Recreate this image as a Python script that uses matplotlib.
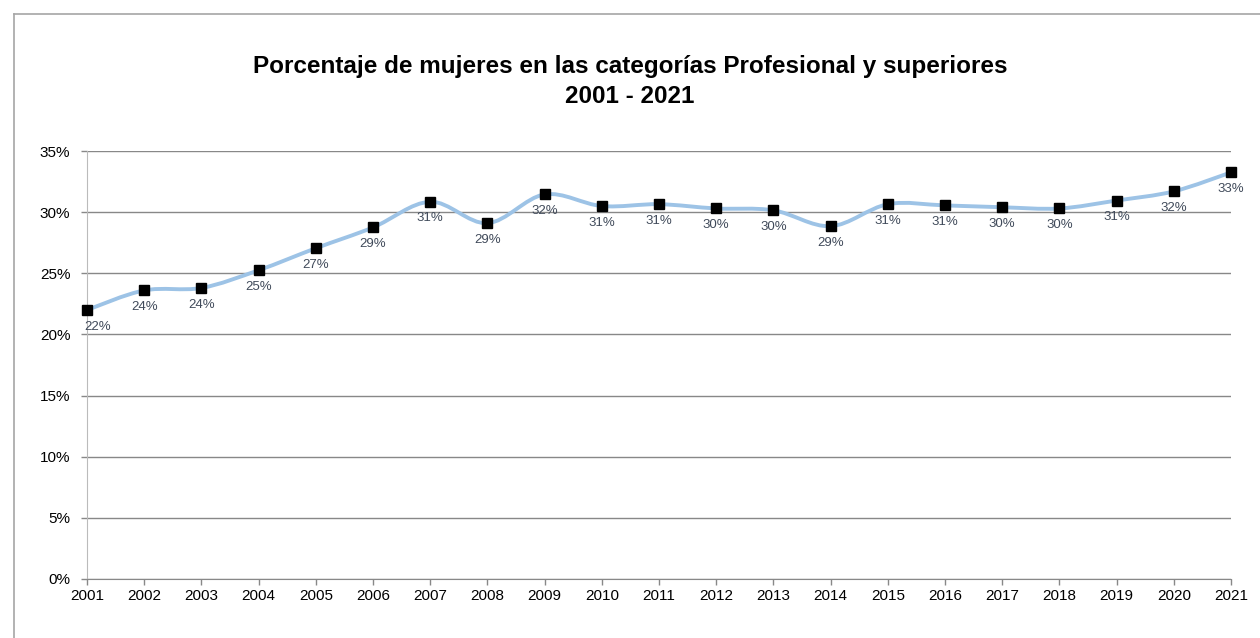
import matplotlib.pyplot as plt
from matplotlib.path import Path
from matplotlib.patches import PathPatch
from matplotlib.ticker import FuncFormatter

plt.rcParams['font.family'] = ['Liberation Sans', 'DejaVu Sans']

# Datos: porcentaje de mujeres en categorías Profesional y superiores
anios = [2001, 2002, 2003, 2004, 2005, 2006, 2007, 2008, 2009, 2010, 2011,
         2012, 2013, 2014, 2015, 2016, 2017, 2018, 2019, 2020, 2021]
porcentajes = [22.0, 23.6, 23.8, 25.25, 27.05, 28.75, 30.85, 29.1, 31.45, 30.5, 30.65,
               30.3, 30.15, 28.85, 30.65, 30.55, 30.4, 30.3, 30.95, 31.7, 33.25]
etiquetas = ['22%', '24%', '24%', '25%', '27%', '29%', '31%', '29%', '32%', '31%', '31%',
             '30%', '30%', '29%', '31%', '31%', '30%', '30%', '31%', '32%', '33%']

titulo = 'Porcentaje de mujeres en las categorías Profesional y superiores\n2001 - 2021'

fig = plt.figure(figsize=(12.6, 6.38), dpi=100)
ax = fig.add_axes([87 / 1260, 1 - 579 / 638, (1231 - 87) / 1260, (579 - 151) / 638])

# Marco del gráfico (estilo Excel)
fig.add_artist(plt.Line2D([14 / 1260, 14 / 1260], [0, 1 - 14 / 638], color='#A6A6A6', lw=1.2))
fig.add_artist(plt.Line2D([14 / 1260, 1], [1 - 14 / 638, 1 - 14 / 638], color='#A6A6A6', lw=1.2))

# Línea suavizada (curvas Bezier tipo Catmull-Rom, como el suavizado de Excel)
verts = [(anios[0], porcentajes[0])]
codes = [Path.MOVETO]
n = len(anios)
for i in range(n - 1):
    x0, y0 = anios[max(i - 1, 0)], porcentajes[max(i - 1, 0)]
    x1, y1 = anios[i], porcentajes[i]
    x2, y2 = anios[i + 1], porcentajes[i + 1]
    x3, y3 = anios[min(i + 2, n - 1)], porcentajes[min(i + 2, n - 1)]
    c1 = (x1 + (x2 - x0) / 6, y1 + (y2 - y0) / 6)
    c2 = (x2 - (x3 - x1) / 6, y2 - (y3 - y1) / 6)
    verts += [c1, c2, (x2, y2)]
    codes += [Path.CURVE4] * 3
ax.add_patch(PathPatch(Path(verts, codes), facecolor='none', edgecolor='#9DC3E6',
                       lw=2.8, capstyle='round', zorder=3))

ax.plot(anios, porcentajes, linestyle='none', marker='s', markersize=7,
        color='black', zorder=4, clip_on=False)

for i, (x, y, txt) in enumerate(zip(anios, porcentajes, etiquetas)):
    dx = 8 if i == 0 else 0
    ax.annotate(txt, (x, y), xytext=(dx, -12), textcoords='offset points',
                ha='center', va='center', fontsize=9.5, color='#404A5A', zorder=5)

ax.set_xlim(2001, 2021)
ax.set_ylim(0, 35)
ax.set_xticks(anios)
ax.set_yticks(range(0, 36, 5))
ax.yaxis.set_major_formatter(FuncFormatter(lambda v, p: f'{int(v)}%'))
ax.tick_params(axis='both', labelsize=11, colors='#888888', labelcolor='black',
               length=4, width=1)
ax.tick_params(axis='x', pad=3)
ax.tick_params(axis='y', pad=8)

ax.grid(axis='y', color='#888888', lw=1)
ax.set_axisbelow(True)
for lado in ['top', 'right']:
    ax.spines[lado].set_visible(False)
ax.spines['left'].set_color('#BBBBBB')
ax.spines['bottom'].set_color('#888888')

fig.text(630 / 1260, 1 - 81.5 / 638, titulo, ha='center', va='center',
         fontsize=17.5, fontweight='bold', linespacing=1.35)

fig.savefig('out.png', dpi=100)
